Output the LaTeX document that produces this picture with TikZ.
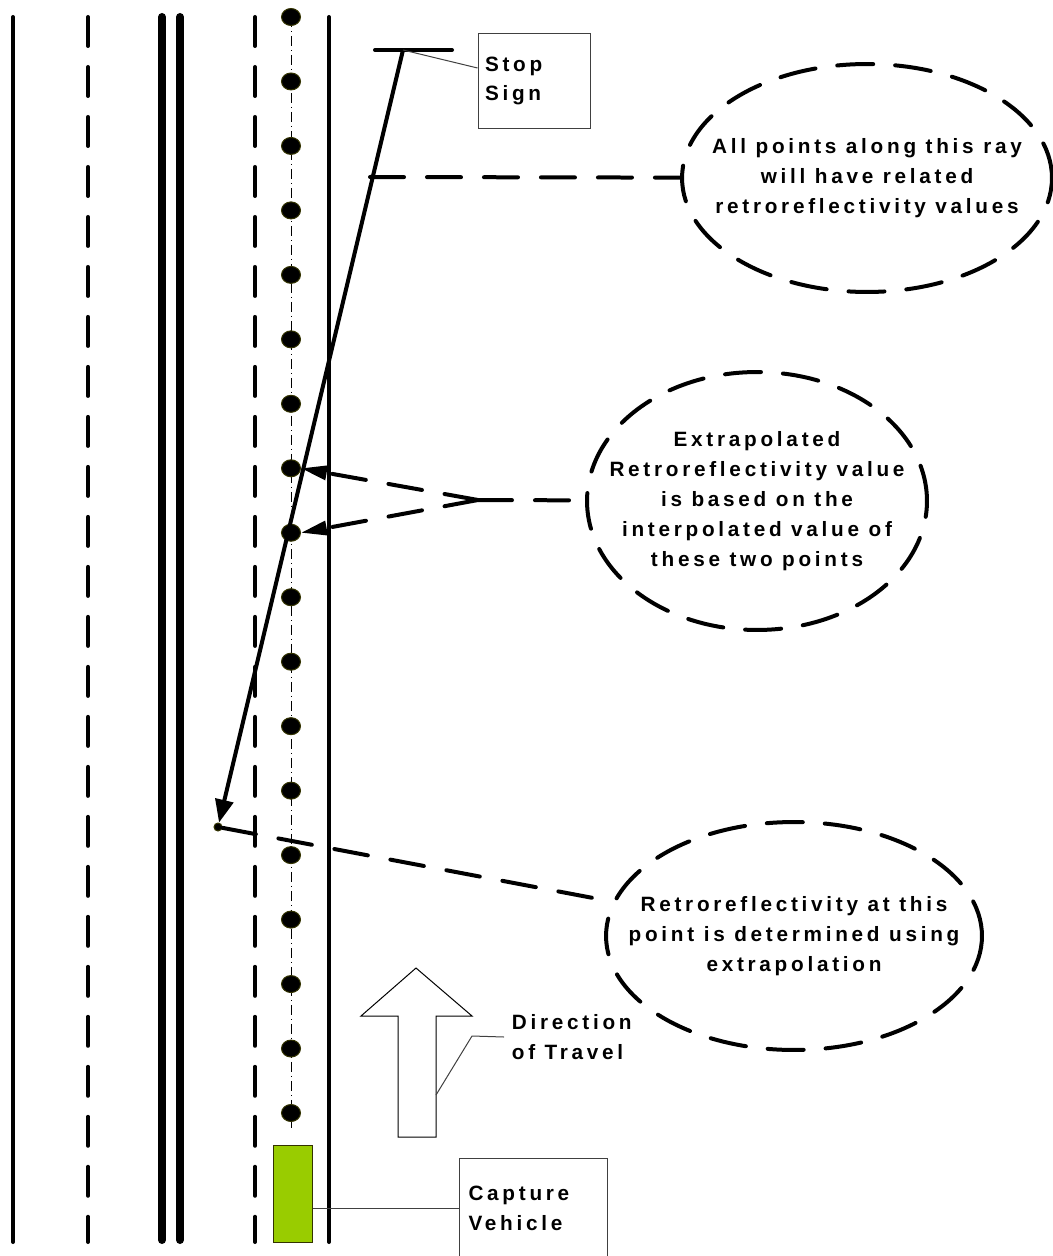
\documentclass[tikz,border=0pt]{standalone}
\usepackage{fontspec}
\usepackage{tikz}
\usetikzlibrary{arrows.meta,positioning,shapes.geometric}
\newfontfamily\calloutfont{Liberation Sans}[LetterSpace=18]
\definecolor{vehiclegreen}{RGB}{153,204,0}
\definecolor{markeredge}{RGB}{51,51,0}
\tikzset{
  roadsolid/.style={line width=0.08cm,line cap=round},
  roadthick/.style={line width=0.16cm,line cap=round},
  roaddashed/.style={line width=0.08cm,line cap=round,dash pattern=on 0.58cm off 0.42cm},
  centreline/.style={line width=0.02cm,dash pattern=on 0.2cm off 0.08cm on 0.02cm off 0.08cm},
  marker/.style={ellipse,fill=black,draw=markeredge,line width=0.02cm,
    minimum width=0.38cm,minimum height=0.34cm,inner sep=0pt},
  calloutellipse/.style={ellipse,draw,line width=0.08cm,line cap=round,
    dash pattern=on 0.72cm off 0.44cm,inner sep=0pt},
  callouttext/.style={align=center,inner sep=0pt,
    font=\calloutfont\bfseries\fontsize{11.8}{17}\selectfont},
  labelbox/.style={draw=black!75,line width=0.02cm,align=left,
    font=\calloutfont\bfseries\fontsize{11.8}{17}\selectfont},
  dashedleader/.style={line width=0.08cm,line cap=round,dash pattern=on 0.68cm off 0.46cm},
  thinleader/.style={draw=black!75,line width=0.02cm},
  rayarrow/.style={line width=0.08cm,-{Triangle[length=0.46cm,width=0.36cm]}},
  pointerarrow/.style={dashedleader,-{Triangle[length=0.52cm,width=0.28cm]}}
}

\begin{document}
\begin{tikzpicture}[x=0.02cm,y=-0.02cm]
  \useasboundingbox (0,0) rectangle (1053,1256);
  % road edges and lane lines
  \draw[roadsolid] (13,17) -- (13,1242);
  \draw[roaddashed] (88,17) -- (88,1242);
  \draw[roadthick] (162,17) -- (162,1240);
  \draw[roadthick] (180,17) -- (180,1240);
  \draw[roaddashed] (255,17) -- (255,1242);
  \draw[roadsolid] (329,17) -- (329,1242);
  % pavement markers
  \draw[centreline] (291,17) -- (291,1128);
  \foreach \k in {0,...,17}
    \node[marker] (m\k) at (291,{17+64.47*\k}) {};

  % stop sign and the ray
  \draw[roadsolid] (375,50) -- (452,50);
  \coordinate (signfoot) at (403,50);
  \node[circle,fill=black,draw=markeredge,line width=0.02cm,minimum size=0.16cm,inner sep=0pt]
    (farpoint) at (218,827) {};
  \draw[rayarrow] (signfoot) -- (farpoint);
  \node[labelbox,minimum height=1.92cm,text width=1.96cm,inner sep=0.14cm] (stopsign) at (534,81) {Stop\\Sign};
  \draw[thinleader] (signfoot) -- ([yshift=0.26cm]stopsign.west);

  % callouts
  \node[calloutellipse,minimum width=7.4cm,minimum height=4.56cm] (raynote) at (867,178) {};
  \node[callouttext] (raytext) at (raynote) {All points along this ray\\will have related\\retroreflectivity values};
  \coordinate (onray) at (370,177);
  \draw[dashedleader] (onray) -- (raynote);

  \node[calloutellipse,minimum width=6.8cm,minimum height=5.16cm] (interpnote) at (757,501) {};
  \node[callouttext] (interptext) at (interpnote) {Extrapolated\\Retroreflectivity value\\is based on the\\interpolated value of\\these two points};
  \coordinate (fork) at (478,500);
  \draw[dashedleader] (fork) -- (interpnote);
  \draw[pointerarrow] (fork) -- (m7.east);
  \draw[pointerarrow] (fork) -- (m8.east);

  \node[calloutellipse,minimum width=7.52cm,minimum height=4.56cm] (extrapnote) at (794,936) {};
  \node[callouttext] (extraptext) at (extrapnote) {Retroreflectivity at this\\point is determined using\\extrapolation};
  \draw[dashedleader] (farpoint) -- (extrapnote);

  % direction of travel
  \draw[line width=0.02cm] (398,1137) -- (398,1016) -- (361,1016) -- (416,968) -- (472,1016)
    -- (436,1016) -- (436,1137) -- cycle;
  \coordinate (shaft) at (436,1095);
  \node[callouttext,anchor=west,inner sep=0.15cm,align=left] (travel) at (504,1037) {Direction\\of Travel};
  \draw[thinleader] (shaft) -- (472,1036) -- (travel.west);

  % capture vehicle
  \node[draw=markeredge,fill=vehiclegreen,line width=0.02cm,minimum width=0.78cm,minimum height=1.94cm,inner sep=0pt]
    (vehicle) at (292.5,1193.5) {};
  \node[labelbox,anchor=west,minimum height=2cm,text width=2.6cm,inner sep=0.18cm] (capture) at (459,1208) {Capture\\Vehicle};
  \draw[thinleader] (vehicle.east |- capture.west) -- (capture.west);
\end{tikzpicture}
\end{document}
